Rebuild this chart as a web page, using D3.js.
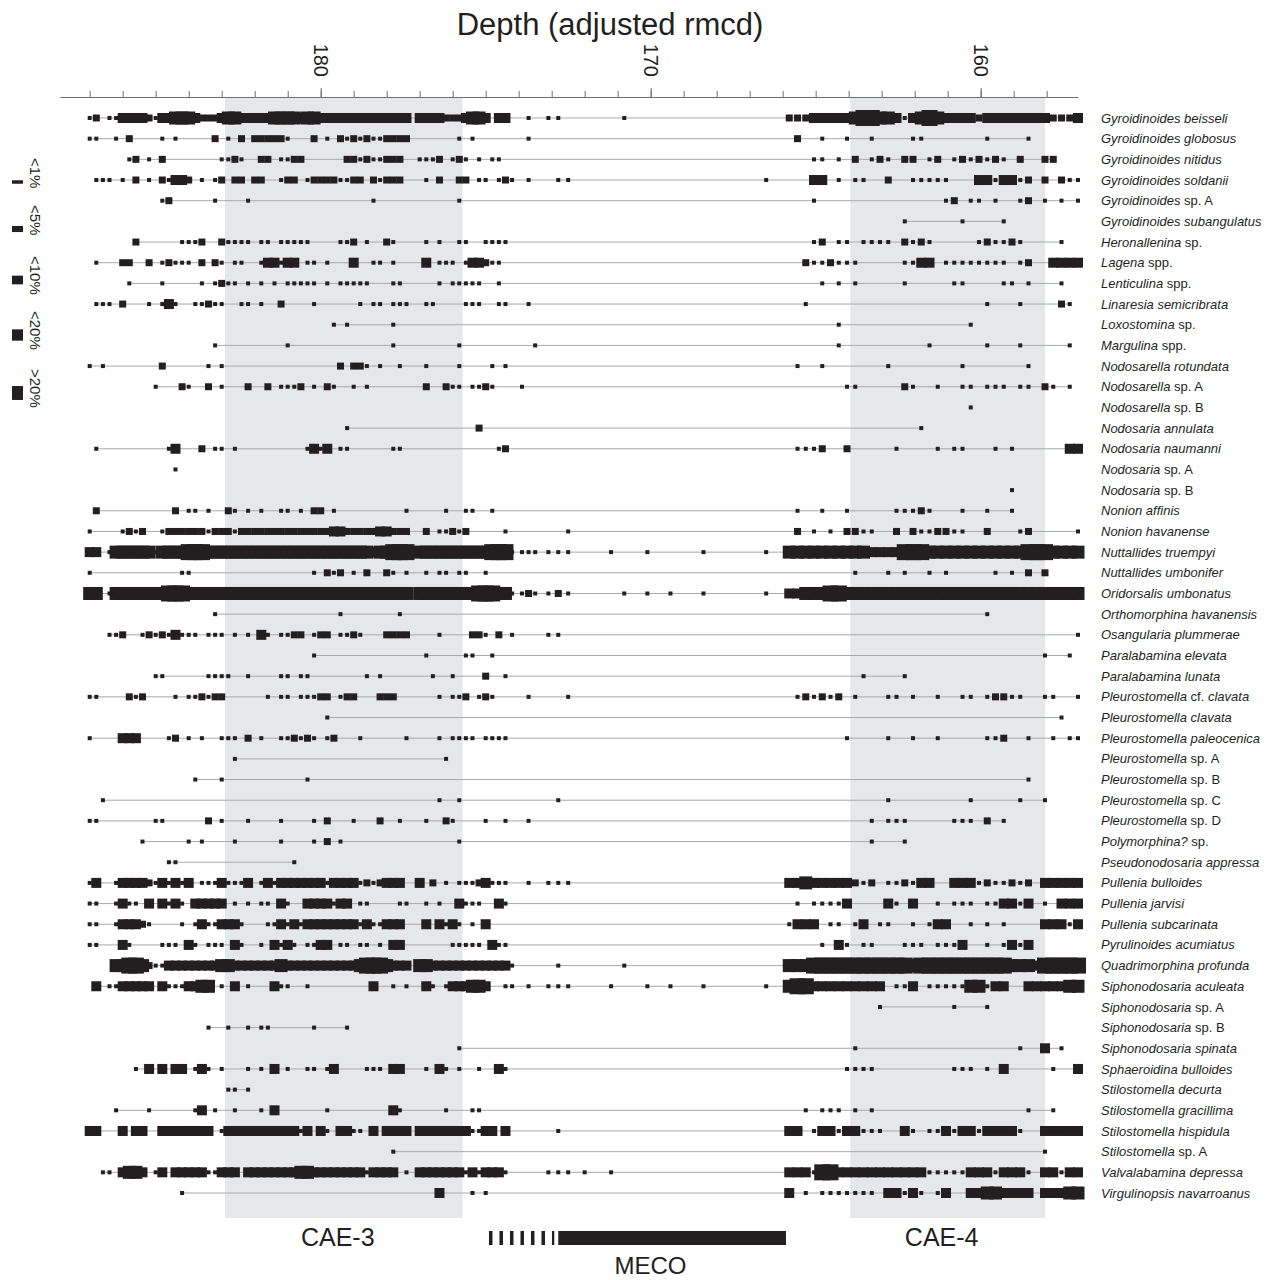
<!DOCTYPE html>
<html>
<head>
<meta charset="utf-8">
<script src="https://cdn.jsdelivr.net/npm/d3@7"></script>
<style>
body { margin: 0; background: #fff; }
text { font-family: "Liberation Sans", Arial, Helvetica, sans-serif; fill: #231f20; }
.axis path, .axis line { stroke: #6d6e71; }
</style>
</head>
<body>
<div class="chart"></div>
<script>

// Data
//
var species = [
	"Gyroidinoides beisseli", "Gyroidinoides globosus", "Gyroidinoides nitidus", "Gyroidinoides soldanii",
	"Gyroidinoides sp. A", "Gyroidinoides subangulatus", "Heronallenina sp.", "Lagena spp.", "Lenticulina spp.",
	"Linaresia semicribrata", "Loxostomina sp.", "Margulina spp.", "Nodosarella rotundata", "Nodosarella sp. A",
	"Nodosarella sp. B", "Nodosaria annulata", "Nodosaria naumanni", "Nodosaria sp. A", "Nodosaria sp. B",
	"Nonion affinis", "Nonion havanense", "Nuttallides truempyi", "Nuttallides umbonifer", "Oridorsalis umbonatus",
	"Orthomorphina havanensis", "Osangularia plummerae", "Paralabamina elevata", "Paralabamina lunata",
	"Pleurostomella cf. clavata", "Pleurostomella clavata", "Pleurostomella paleocenica", "Pleurostomella sp. A",
	"Pleurostomella sp. B", "Pleurostomella sp. C", "Pleurostomella sp. D", "Polymorphina? sp.",
	"Pseudonodosaria appressa", "Pullenia bulloides", "Pullenia jarvisi", "Pullenia subcarinata",
	"Pyrulinoides acumiatus", "Quadrimorphina profunda", "Siphonodosaria aculeata", "Siphonodosaria sp. A",
	"Siphonodosaria sp. B", "Siphonodosaria spinata", "Sphaeroidina bulloides", "Stilostomella decurta",
	"Stilostomella gracillima", "Stilostomella hispidula", "Stilostomella sp. A", "Valvalabamina depressa",
	"Virgulinopsis navarroanus"
];

// sample depths (adjusted rmcd), three stretches of the record
var lowerDepths = [
	187.8, 187.6, 187.4, 187.2, 187.0, 186.8, 186.6, 186.4, 186.2, 186.0,
	185.8, 185.6, 185.4, 185.2, 185.0, 184.8, 184.6, 184.4, 184.2, 184.0,
	183.8, 183.6, 183.4, 183.2, 183.0, 182.8, 182.6, 182.4, 182.2, 182.0,
	181.8, 181.6, 181.4, 181.2, 181.0, 180.8, 180.6, 180.4, 180.2, 180.0,
	179.8, 179.6, 179.4, 179.2, 179.0, 178.8, 178.6, 178.4, 178.2, 178.0,
	177.8, 177.6, 177.4, 177.2, 177.0, 176.8, 176.6, 176.4, 176.2, 176.0,
	175.8, 175.6, 175.4, 175.2, 175.0, 174.8, 174.6, 174.4, 174.2
];
var mecoDepths = [173.9, 173.7, 173.5, 173.1, 172.8, 172.5, 172.0, 171.2, 170.8, 170.1, 169.4, 168.4, 166.5];
var upperDepths = [
	165.8, 165.55, 165.3, 165.05, 164.8, 164.55, 164.3, 164.05, 163.8, 163.55,
	163.3, 163.05, 162.8, 162.55, 162.3, 162.05, 161.8, 161.55, 161.3, 161.05,
	160.8, 160.55, 160.3, 160.05, 159.8, 159.55, 159.3, 159.05, 158.8, 158.55,
	158.3, 158.05, 157.8, 157.55, 157.3, 157.05
];

// abundance class per sample: . absent, 1 <1%, 2 <5%, 3 <10%, 4 <20%, 5 >20%
// lower | meco | upper
var abundance = [
	"....12.113 3332133444 3222344333 3344443443 3333333333 333.333322 23443.33. | .1.11...1.... | 2223333345 5443134543 3332333333 332223",
	"....11..1. 2....1.1.. ...2.1.2.2 22221...2. 1.21212112 222....... 1.1...... | .1........... | .2..1..1.. 1....11... ....1....1 ......",
	".......... 12.1.2.... ....1121.. 22.1122... ...2212112 22..1112.1 21.1.11.. | ............. | ...11.1.2. 121.22.12. 1212121.2. .22...",
	".....111.1 .2.1.21332 .1.12.22.2 2..122.122 221122.212 22...1.2.. 22.11.121 | .1..11......1 | ...33.1.11 ..2..11111 ...3313312 .2.211",
	".......... .....12... ...1....1. .......... .......1.. .......... 1........ | ............. | ...1...... .........1 2.11.1..12 .1.1.1",
	" | | .......... ....1..... .1....1... ......",
	".......... .2......11 12..21111. 11.11111.. ..112.1..2 1....1.1.. 11..1111. | ............. | ...12.11.1 111.2121.. ...121121. ...1..",
	".....1...2 2..2.12111 .2.21.11.. 133133.11. 1...3..11. 1....3.111 .133211.. | ............. | ..2112111. ....1133.1 1111111.12 ..3333",
	".......... 1....1.... .1.1211.1. 1.1.11111. 1.11111... 11.....1.1 1111..1.. | ............. | ....1.1.1. ....1..... 11....11.1 ...1..",
	".....111.2 ...1.131.. 11211..11. 1..2....1. .....1.11. 111..11... .111..11. | .1........... | ..1....... .......... ....1...1. ...21.",
	".......... .......... .......... .......... .1.1...... 1......... ......... | ............. | ......1... .......... ..1....... ......",
	".......... .......... ...1...... ....1..... .......... 1......... 1........ | ..1.......... | ......1... .......1.. ....1...1. ....1.",
	"....1.1... .....2.... ..1.1..... .......... ..2.221.1. .1...1.... 1....1.1. | ............. | .1..1..... ..1....... .1.......1 ......",
	".......... ....1...21 ..2.1...2. .2.1112.1. 21..1.1... .....2..21 1.1121... | 1............ | .......11. ....21..1. .11.111.11 .21.1.",
	" | | .......... .......... ..1....... ......",
	".......... .......... .......... .......... ...1...... .......... ...2..... | ............. | .......... ......1... .......... ......",
	".....1.... ......13.. .2.11.1... .......131 3.11...... 11........ ......12. | ............. | .1112..2.. ...1....1. 11...1.1.. ....33",
	".......... .......1.. | | ",
	" | | .......... .......... .......1.. ......",
	".....2.... .......2.1 1.1..21.1. 1..11.1.22 .1........ ..1.....1. .11..1... | ............. | .1..1..1.. ...11121.. .1..1..1.. ......",
	"....1....1 212..12222 2212221222 2222222222 2332222233 222..2.112 12.....1. | .....1....... | .2.1.1.221 1..2.21122 11..2...12 .....1",
	"....33.144 4444144445 5544444444 4444444444 4444444344 555.444444 444445551 | 111111.1.1.11 | 4444444444 3333555444 4444444445 554444",
	"....1..... ........11 .......... ........1. 212.1.2..2 1.1..1.11. 11..1.... | ............. | ........1. ..1.1..1.1 .....1.1.2 .2....",
	"....44.144 4444445554 4444444444 4444444444 4444444444 444.444444 444555441 | 121121..11111 | 3344455444 4444444444 4444444444 444444",
	".......... .......... ...1...... .......... ..1....... .1........ ......... | ............. | .......... .......... ....1..... ......",
	".......112 ..12121311 1.111.1.1. 31.1122.12 2.1121...2 222....1.. ..221.2.1 | ...11........ | .......... .......... .......... .....1",
	".......... .......... .......... ........1. .......... .....1.... .11..1... | ............. | .......... .......... .......... .1..1.",
	".......... ....11.... ..1111..1. ...11.11.. ......1.1. ......1..1 ....2..1. | ............. | .........1 ....1..... .......... ......",
	"....11.... 212....1.1 12122..... .1.11.1112 2.122...22 2......1.1 12.121... | .1...1....... | .121212.1. ..11.1..1. .11.12211. .11..1",
	".......... .......... .......... .......... 1......... .......... ......... | ............. | .......... .......... .......... ...1..",
	"....1....3 33....12.1 .1..111.2. 1..112121. 12...1.... ..1....1.1 111.1111. | ............. | .......1.. ..1..1..1. ....112..1 ..1.11",
	".......... .......... ......1... .......... .......... ........1. ......... | | ",
	".......... .......... 1...1..... .......1.. .......... .......... ......... | ............. | .......... .......... .........1 ......",
	"......1... .......... .......... .......... .......... .......1.. 1........ | ....1........ | .......... ..1....... ..1.....1. .1....",
	"....11.... ....11.... ..2.1...1. ...1....1. 2...1...2. .1...1..21 ....1..1. | .1........... | .......... 1.111..... 111.2.1... ......",
	".......... ..1......1 .1....1... ...1....1. 2.1....... .......... 1........ | ............. | .......... 1...1..... .......... ......",
	".......... ......11.. .......... .....1.... | | ",
	"....13..13 3332131313 .11131113. 1313333333 1333312123 33..3.2.1. 11123111. | .1.111....... | 3343333321 2.112133.. 3331211212 .33333",
	"....11..13 11.3.3131. 33333.1.1. 11.31..333 3133.11... .11..1.1.. 3111..31. | ............. | .1.11113.. ..31.3..1. 111.113313 .1.333",
	"....11..13 3321....1. 13113331.. .113131333 3333313113 33...3.313 1.1.3.... | ............. | 1333.11.13 .11..1.133 ..1.1.1... .33313",
	"....11...3 1....111.3 1.111.31.. 1.3131.113 3.11.11.1. 33.......1 1111.311. | ............. | ....1.31.1 1...111.11 13..1.1313 ......",
	"........44 5542113333 3333443333 3334333333 3333345554 333.443333 333333331 | ....1...1.... | 4445555555 5555545555 5555555444 355555",
	".....3.113 3333.31113 344.1.3.1. ..311..1.. .......3.. 1.1..31.13 33443..11 | .1.111.1.1111 | 4553333333 33.113.111 1144133..3 333344",
	" | | .......... .1........ 1...1..... ......",
	".......... .......... ..1..1..1. 11......1. ...1...... .......... ......... | | ",
	".......... .......... .......... .......... .......... .......... 1........ | ............. | ........1. .......... ........1. .3.1..",
	".......... .1.3.3.33. 131.1...1. 1.3.1..11. 13....111. 33...1.31. 1..1..31. | ............. | .......111 1......... 111.1.3... ..1..3",
	".......... .......... .....11.1. | | ",
	"........1. ...1...... 13.1..1... 1.3....... 1......... 31......1. ..11..... | ............. | ..1.111.1. 1......... .........1 ..1...",
	"....33...3 .33..33333 333.133333 33333313.3 1.3311.3.3 333.333333 331133.3. | ....1........ | 33.1331331 11..31.113 133133331. .33333",
	".......... .......... .......... .......... .......... 1......... ......... | ............. | .......... .......... .......... .1....",
	"......11.3 443.13.333 3311333.33 3333334433 3333331333 3.1.333333 31313331. | ...11111..... | 3331553333 3333333111 1133313331 .33133",
	".......... ........1. .......... .......... .......... .......3.. ..1.1.... | ............. | 3.1.111111 1.33131.13 ..33443333 .33344"
];

var classLabels = ["<1%", "<5%", "<10%", "<20%", ">20%"];

var events = [
	{name: "CAE-3", top: 182.9, base: 175.7},
	{name: "CAE-4", top: 163.95, base: 158.05}
];

var meco = {name: "MECO", start: 174.9, onset: 172.8, end: 165.9};

var majorTicks = [180, 170, 160];


// Margins
//
var width = 1272,
    height = 1280;

var svg = d3.select(".chart")
	.append("svg")
	.attr("width", width)
	.attr("height", height);

var x = d3.scaleLinear()
	.domain([187.9, 157.05])
	.range([60, 1078]);

var y = d3.scalePoint()
	.domain(species)
	.range([118, 1193]);

var size = d3.scaleLinear()
	.domain([1, 5])
	.range([4, 16]);

var segments = [lowerDepths, mecoDepths, upperDepths];
var depths = lowerDepths.concat(mecoDepths, upperDepths);

function parseCounts(str) {
	var parts = str.split("|");
	var out = [];
	segments.forEach(function(seg, i) {
		var p = (parts[i] || "").replace(/\s/g, "");
		for (var j = 0; j < seg.length; j++) {
			var c = p.charAt(j);
			out.push(c === "" || c === "." ? 0 : +c);
		}
	});
	return out;
}

var rows = species.map(function(name, i) {
	var counts = parseCounts(abundance[i]);
	var marks = [];
	counts.forEach(function(c, j) {
		if (c > 0) marks.push({depth: depths[j], cls: c});
	});
	return {
		name: name,
		marks: marks,
		first: d3.max(marks, function(m) { return m.depth; }),
		last: d3.min(marks, function(m) { return m.depth; })
	};
});


// shaded intervals
svg.selectAll(".event")
	.data(events)
	.enter().append("rect")
	.attr("class", "event")
	.attr("x", function(d) { return x(d.top); })
	.attr("width", function(d) { return x(d.base) - x(d.top); })
	.attr("y", 98)
	.attr("height", 1120)
	.attr("fill", "#e6e7e8");

svg.selectAll(".event-label")
	.data(events)
	.enter().append("text")
	.attr("class", "event-label")
	.attr("x", function(d) { return (x(d.top) + x(d.base)) / 2 - 6; })
	.attr("y", 1246)
	.attr("text-anchor", "middle")
	.attr("font-size", 25)
	.text(function(d) { return d.name; });


// axis
var minorAxis = d3.axisTop(x)
	.tickValues(x.ticks(30))
	.tickSize(6)
	.tickSizeOuter(0)
	.tickFormat("");

svg.append("g")
	.attr("class", "axis")
	.attr("transform", "translate(0,97)")
	.call(minorAxis);

svg.append("g")
	.attr("class", "axis")
	.attr("transform", "translate(0,97)")
	.call(d3.axisTop(x).tickValues(majorTicks).tickSize(9).tickSizeOuter(0).tickFormat(""))
	.select(".domain").remove();

svg.selectAll(".tick-label")
	.data(majorTicks)
	.enter().append("text")
	.attr("class", "tick-label")
	.attr("transform", function(d) { return "translate(" + x(d) + ",77) rotate(90)"; })
	.attr("text-anchor", "end")
	.attr("dy", "0.35em")
	.attr("font-size", 20)
	.text(function(d) { return d; });

svg.append("text")
	.attr("x", 610)
	.attr("y", 35)
	.attr("text-anchor", "middle")
	.attr("font-size", 31)
	.text("Depth (adjusted rmcd)");


// ranges and occurrences
var row = svg.selectAll(".taxon")
	.data(rows)
	.enter().append("g")
	.attr("class", "taxon")
	.attr("transform", function(d) { return "translate(0," + y(d.name) + ")"; });

row.filter(function(d) { return d.marks.length > 1; })
	.append("line")
	.attr("x1", function(d) { return x(d.first); })
	.attr("x2", function(d) { return x(d.last); })
	.attr("stroke", "#a7a9ac")
	.attr("stroke-width", 1);

row.selectAll(".occ")
	.data(function(d) { return d.marks; })
	.enter().append("rect")
	.attr("class", "occ")
	.attr("x", function(m) { return x(m.depth) - size(m.cls) / 2; })
	.attr("y", function(m) { return -size(m.cls) / 2; })
	.attr("width", function(m) { return size(m.cls); })
	.attr("height", function(m) { return size(m.cls); })
	.attr("fill", "#231f20");

row.append("text")
	.attr("x", 1101)
	.attr("dy", "0.35em")
	.attr("font-size", 13)
	.each(function(d) {
		var t = d3.select(this);
		d.name.split(" ").forEach(function(w, i) {
			var plain = /^(sp\.|spp\.|cf\.|[A-Z])$/.test(w);
			t.append("tspan")
				.attr("font-style", plain ? "normal" : "italic")
				.text((i ? " " : "") + w);
		});
	});


// legend
var legendY = [182, 229, 280, 335, 393];

var legend = svg.selectAll(".legend")
	.data(classLabels)
	.enter().append("g")
	.attr("class", "legend")
	.attr("transform", function(d, i) { return "translate(0," + legendY[i] + ")"; });

legend.append("rect")
	.attr("x", 12)
	.attr("width", 11)
	.attr("y", function(d, i) { return -size(i + 1) * 0.87 / 2; })
	.attr("height", function(d, i) { return size(i + 1) * 0.87; })
	.attr("fill", "#231f20");

legend.append("text")
	.attr("transform", "translate(35,-24) rotate(90)")
	.attr("dy", "0.35em")
	.attr("font-size", 15)
	.text(function(d) { return d; });


// MECO bar
svg.append("line")
	.attr("x1", x(meco.start))
	.attr("x2", x(meco.onset) - 4)
	.attr("y1", 1238)
	.attr("y2", 1238)
	.attr("stroke", "#231f20")
	.attr("stroke-width", 14)
	.attr("stroke-dasharray", "3.5,7");

svg.append("rect")
	.attr("x", x(meco.onset))
	.attr("width", x(meco.end) - x(meco.onset))
	.attr("y", 1231)
	.attr("height", 14)
	.attr("fill", "#231f20");

svg.append("text")
	.attr("x", (x(meco.start) + x(meco.end)) / 2 + 13)
	.attr("y", 1274)
	.attr("text-anchor", "middle")
	.attr("font-size", 24)
	.text(meco.name);

</script>
</body>
</html>
